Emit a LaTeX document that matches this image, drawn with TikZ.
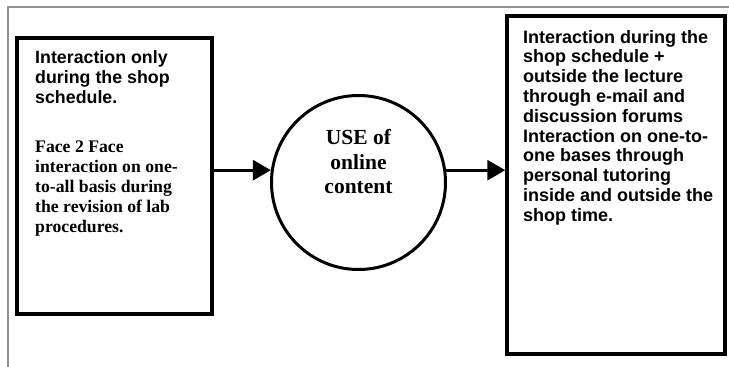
\documentclass[tikz,border=0pt]{standalone}
\usepackage{fontspec}
\setmainfont{Liberation Serif}
\setsansfont{Liberation Sans}
\usetikzlibrary{arrows.meta}
\newcommand\lns[1]{\begin{tabular}[t]{@{}l@{}}#1\end{tabular}}
\newcommand\lnc[1]{\begin{tabular}[t]{@{}c@{}}#1\end{tabular}}
\begin{document}
\begin{tikzpicture}[x=1pt,y=-1pt,
  frame/.style={draw=gray!85, line width=1.3pt},
  box/.style={draw=black, line width=3.5pt, fill=white},
  circ/.style={draw=black, circle, line width=3pt, fill=white, inner sep=0pt},
  sanstxt/.style={inner sep=0pt, font=\fontsize{17.8}{20}\selectfont\sffamily\bfseries},
  sanstxtr/.style={inner sep=0pt, font=\fontsize{18}{19.8}\selectfont\sffamily\bfseries},
  seriftxt/.style={inner sep=0pt, font=\fontsize{17.7}{19.9}\selectfont\bfseries},
  circtxt/.style={inner sep=0pt, font=\fontsize{21.5}{24.5}\selectfont\bfseries},
  arr/.style={draw=black, line width=3pt, -{Triangle[length=18pt,width=20pt]}}]
\useasboundingbox (0,0) rectangle (729,367);
\fill[white] (0,0) rectangle (729,367);
\coordinate (fl) at (8,367);
\coordinate (fc) at (8,7);
\coordinate (fr) at (729,7);
\draw[frame] (fl) -- (fc) -- (fr);
\node[box, minimum width=195pt, minimum height=276pt] (lbox) at (114.5,176) {};
\node[box, minimum width=218pt, minimum height=338pt] (rbox) at (616,185) {};
\node[circ, minimum size=174pt] (c) at (358.5,182.5) {};
\node[sanstxt, anchor=base west] (l1) at (35,63) {\lns{Interaction only\\during the shop\\schedule.}};
\node[seriftxt, anchor=base west] (l2) at (35,152.5) {\lns{Face 2 Face\\interaction on one-\\to-all basis during\\the revision of lab\\procedures.}};
\node[circtxt, anchor=base] (ct) at (358.5,144.5) {\lnc{USE of\\online\\content}};
\node[sanstxtr, anchor=base west] (r1) at (523,43) {\lns{Interaction during the\\shop schedule +\\outside the lecture\\through e-mail and\\discussion forums\\Interaction on one-to-\\one bases through\\personal tutoring\\inside and outside the\\shop time.}};
\draw[arr] (lbox.east |- c.172) -- (c.172);
\draw[arr] (c.8) -- (rbox.west |- c.8);
\end{tikzpicture}
\end{document}
